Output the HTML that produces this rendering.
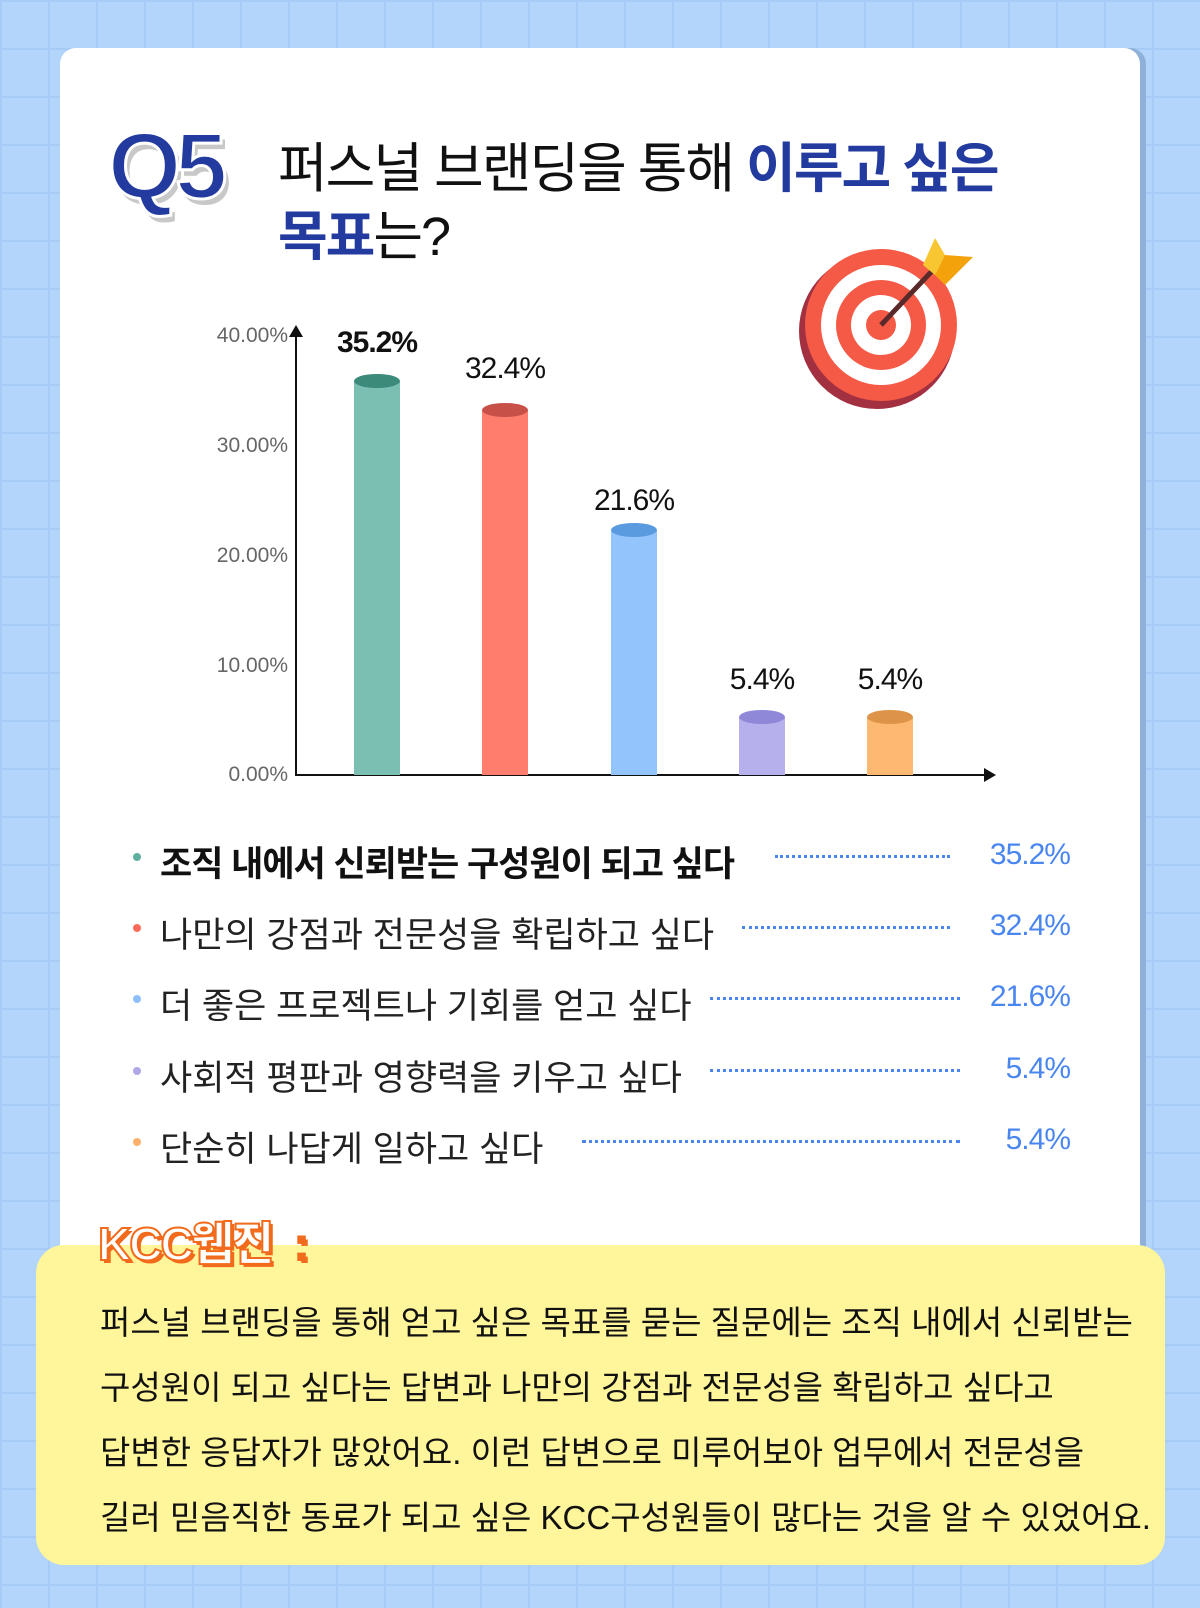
<!DOCTYPE html><html><head><meta charset="utf-8"><style>
body{margin:0;width:1200px;height:1608px;position:relative;overflow:hidden;font-family:"Liberation Sans","Noto Sans CJK KR",sans-serif;
background-color:#b3d4fb;background-image:linear-gradient(#a6cbf7 2px,transparent 2px),linear-gradient(90deg,#a6cbf7 2px,transparent 2px);background-size:48px 48px;}
.abs{position:absolute}
.card{left:60px;top:48px;width:1080px;height:1260px;background:#fff;border-radius:16px;box-shadow:6px 0 0 #8fb0d8}
.yl{position:absolute;left:190px;width:98px;text-align:right;font-size:21px;color:#666}
.bar{position:absolute;width:46px}
.cap{position:absolute;width:46px;height:14px;border-radius:50%}
.val{position:absolute;width:140px;text-align:center;font-size:30px;color:#111;letter-spacing:-1px}
.row{position:absolute;left:160px;font-size:35px;color:#222;letter-spacing:0px}
.dot{position:absolute;left:133px;width:8px;height:8px;border-radius:50%}
.dots{position:absolute;border-top:3px dotted #4a86f0;height:0}
.pv{position:absolute;right:130px;font-size:30px;color:#4a86f0;letter-spacing:-1px}
.body{position:absolute;left:100px;font-size:33px;color:#111;letter-spacing:0px}
</style></head><body>
<div class="abs card"></div>
<div class="abs" style="left:108px;top:112px;font-size:94px;font-weight:900;color:#233b9e;-webkit-text-stroke:3px #fff;text-shadow:4px 6px 0 #c8c8c8;letter-spacing:-6px">Q5</div>
<div class="abs" style="left:278px;top:135px;font-size:54px;color:#111;letter-spacing:-2px;line-height:68px">퍼스널 브랜딩을 통해 <b style="color:#233b9e">이루고 싶은</b><br><b style="color:#233b9e">목표</b>는?</div>
<svg class="abs" style="left:795px;top:235px" width="180" height="180" viewBox="0 0 180 180">
<circle cx="82" cy="96" r="78" fill="#a33040"/>
<circle cx="86" cy="90" r="76" fill="#f45a45"/><circle cx="86" cy="90" r="60" fill="#fff"/>
<circle cx="86" cy="90" r="45" fill="#f45a45"/><circle cx="86" cy="90" r="30" fill="#fff"/><circle cx="86" cy="90" r="15" fill="#f45a45"/>
<line x1="86" y1="90" x2="138" y2="35" stroke="#5a2a2a" stroke-width="5"/>
<polygon points="128,30 140,3 150,20 140,40" fill="#f7c630"/><polygon points="140,40 150,20 178,22 150,50" fill="#f4a20c"/>
</svg>
<div class="abs" style="left:295px;top:335px;width:2px;height:441px;background:#111"></div>
<div class="abs" style="left:289px;top:325px;width:0;height:0;border-left:7px solid transparent;border-right:7px solid transparent;border-bottom:12px solid #111"></div>
<div class="abs" style="left:296px;top:774px;width:690px;height:2px;background:#111"></div>
<div class="abs" style="left:984px;top:768px;width:0;height:0;border-top:7px solid transparent;border-bottom:7px solid transparent;border-left:12px solid #111"></div>
<div class="yl" style="top:324px">40.00%</div><div class="yl" style="top:434px">30.00%</div><div class="yl" style="top:544px">20.00%</div><div class="yl" style="top:654px">10.00%</div><div class="yl" style="top:763px">0.00%</div>
<div class="bar" style="left:354px;top:381px;height:394px;background:#7bbfb3"></div><div class="cap" style="left:354px;top:374px;background:#3b8a7a"></div>
<div class="bar" style="left:482px;top:410px;height:365px;background:#fe7d6c"></div><div class="cap" style="left:482px;top:403px;background:#c75049"></div>
<div class="bar" style="left:611px;top:530px;height:245px;background:#94c4fc"></div><div class="cap" style="left:611px;top:523px;background:#5a9be0"></div>
<div class="bar" style="left:739px;top:717px;height:58px;background:#b6b1ec"></div><div class="cap" style="left:739px;top:710px;background:#8f87d8"></div>
<div class="bar" style="left:867px;top:717px;height:58px;background:#fdb872"></div><div class="cap" style="left:867px;top:710px;background:#de9448"></div>
<div class="val" style="left:307px;top:326px;font-weight:bold">35.2%</div>
<div class="val" style="left:435px;top:352px">32.4%</div>
<div class="val" style="left:564px;top:484px">21.6%</div>
<div class="val" style="left:692px;top:663px">5.4%</div>
<div class="val" style="left:820px;top:663px">5.4%</div>
<div class="dot" style="top:853px;background:#5fae9e"></div><div class="row" style="top:836px;font-weight:bold;color:#111;letter-spacing:-1px">조직 내에서 신뢰받는 구성원이 되고 싶다</div><div class="dots" style="left:775px;width:175px;top:855px"></div><div class="pv" style="top:838px">35.2%</div>
<div class="dot" style="top:924px;background:#fe6b5a"></div><div class="row" style="top:907px">나만의 강점과 전문성을 확립하고 싶다</div><div class="dots" style="left:742px;width:208px;top:926px"></div><div class="pv" style="top:909px">32.4%</div>
<div class="dot" style="top:995px;background:#8fc0fb"></div><div class="row" style="top:978px">더 좋은 프로젝트나 기회를 얻고 싶다</div><div class="dots" style="left:710px;width:250px;top:997px"></div><div class="pv" style="top:980px">21.6%</div>
<div class="dot" style="top:1067px;background:#aea8e8"></div><div class="row" style="top:1050px">사회적 평판과 영향력을 키우고 싶다</div><div class="dots" style="left:710px;width:250px;top:1069px"></div><div class="pv" style="top:1052px">5.4%</div>
<div class="dot" style="top:1138px;background:#fdb06a"></div><div class="row" style="top:1121px">단순히 나답게 일하고 싶다</div><div class="dots" style="left:582px;width:378px;top:1140px"></div><div class="pv" style="top:1123px">5.4%</div>
<div class="abs" style="left:36px;top:1245px;width:1129px;height:320px;background:#fff59a;border-radius:28px"></div>
<div class="abs" style="left:98px;top:1208px;font-size:46px;font-weight:900;color:#fff;-webkit-text-stroke:2px #f26a1b;text-shadow:3px 3px 0 #f26a1b;letter-spacing:-2px">KCC웹진 &nbsp;<span style="color:#f26a1b">:</span></div>
<div class="body" style="top:1296px">퍼스널 브랜딩을 통해 얻고 싶은 목표를 묻는 질문에는 조직 내에서 신뢰받는</div>
<div class="body" style="top:1361px">구성원이 되고 싶다는 답변과 나만의 강점과 전문성을 확립하고 싶다고</div>
<div class="body" style="top:1426px">답변한 응답자가 많았어요. 이런 답변으로 미루어보아 업무에서 전문성을</div>
<div class="body" style="top:1491px">길러 믿음직한 동료가 되고 싶은 KCC구성원들이 많다는 것을 알 수 있었어요.</div>
</body></html>
